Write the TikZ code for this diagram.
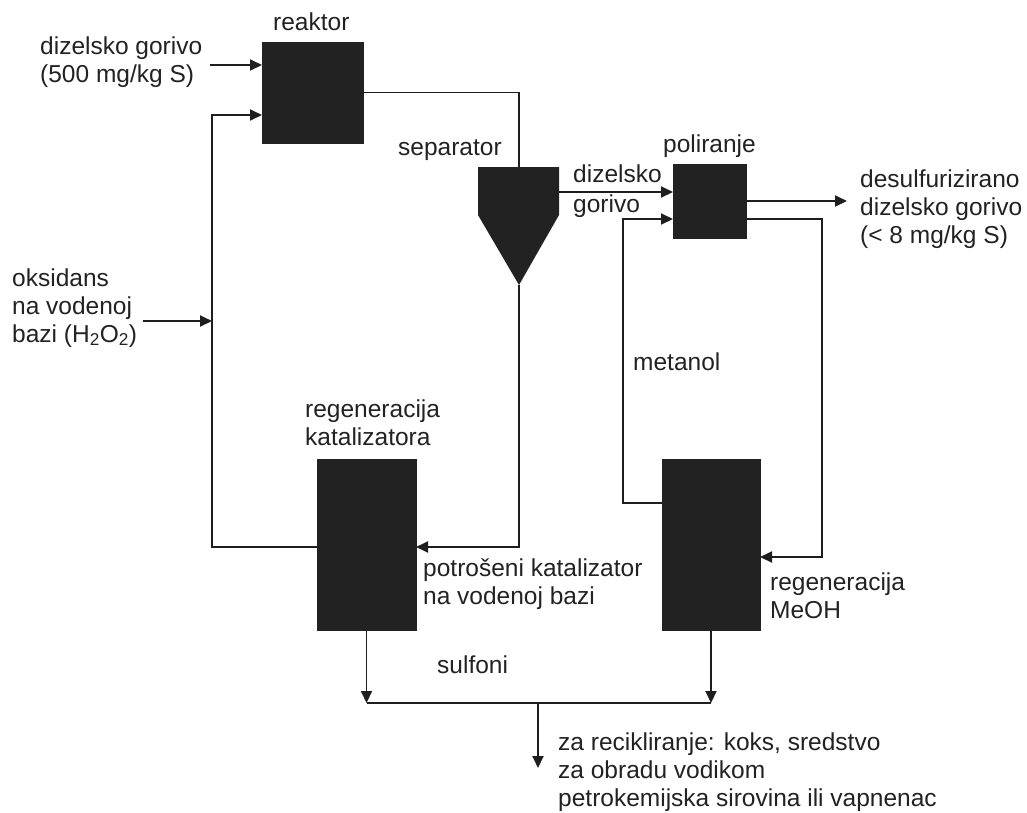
\documentclass[tikz,border=0pt]{standalone}
\usepackage{fontspec}
\setmainfont{Liberation Sans}
\usetikzlibrary{arrows.meta}
\definecolor{boxc}{HTML}{222222}
\definecolor{linec}{HTML}{1E1E1E}
\definecolor{textc}{HTML}{222222}
\begin{document}
\begin{tikzpicture}[x=1pt,y=-1pt,
  unit/.style={fill=boxc,draw=boxc,line width=0.8pt,inner sep=0pt,outer sep=0pt},
  flow/.style={draw=linec,line width=1.9pt},
  arr/.style={flow,-{Triangle[length=12pt,width=11pt]}},
  lbl/.style={anchor=base west,inner sep=0pt,align=left,text=textc,font=\fontsize{24.5}{28}\selectfont}]
\useasboundingbox (0,0) rectangle (1027,812);
% units
\node[unit,minimum width=101pt,minimum height=101pt] (reactor) at (312.5,92.5) {};
\node[unit,minimum width=73pt,minimum height=74pt] (pol) at (709.5,201) {};
\node[unit,minimum width=99pt,minimum height=171pt] (regcat) at (366.5,544.5) {};
\node[unit,minimum width=98pt,minimum height=171pt] (regmeoh) at (711,544.5) {};
\fill[boxc] (478,167) -- (559,167) -- (559,215) -- (519,285) -- (478,215) -- cycle;
\coordinate (sepTop) at (519,167);
\coordinate (sepTip) at (519,285);
\coordinate (sepOut) at (559,192);
% free ends and bends
\coordinate (feedIn) at (210,65);
\coordinate (loopB) at (212,547);
\coordinate (loopT) at (212,115);
\coordinate (oxIn) at (143,321);
\coordinate (catIn) at (416,547);
\coordinate (meLeftB) at (623,503);
\coordinate (meLeftT) at (623,219);
\coordinate (polRight) at (822,219);
\coordinate (meIn) at (760,557);
\coordinate (prodOut) at (847,201);
\coordinate (jL) at (366.5,703);
\coordinate (jR) at (711,703);
\coordinate (jM) at (538,703);
\coordinate (recOut) at (538,768);
% connectors
\draw[arr] (feedIn) -- (feedIn -| reactor.west);
\draw[arr] (regcat.west |- loopB) -- (loopB) -- (loopT) -- (loopT -| reactor.west);
\draw[arr] (oxIn) -- (oxIn -| loopB);
\draw[flow] (reactor.east) -| (sepTop);
\draw[arr] (sepTip) |- (catIn);
\draw[arr] (sepOut) -- (sepOut -| pol.west);
\draw[arr] (regmeoh.west |- meLeftB) -- (meLeftB) -- (meLeftT) -- (meLeftT -| pol.west);
\draw[arr] (pol.east) -- (prodOut);
\draw[arr] (pol.east |- polRight) -- (polRight) |- (meIn);
\draw[arr] (regcat.south) -- (jL);
\draw[arr] (regmeoh.south) -- (jR);
\draw[flow] (jL) -- (jR);
\draw[arr] (jM) -- (recOut);
% labels (multi-line labels: y is the baseline of the last line)
\node[lbl] (tReactor) at (273,30) {reaktor};
\node[lbl] (tFeed) at (40,82) {dizelsko gorivo\\(500 mg/kg S)};
\node[lbl] (tSep) at (398,155) {separator};
\node[lbl] (tDiesel) at (573,182) {dizelsko};
\node[lbl] (tGorivo) at (573,212) {gorivo};
\node[lbl] (tPol) at (663,152) {poliranje};
\node[lbl] (tProd) at (860,243) {desulfurizirano\\dizelsko gorivo\\(< 8 mg/kg S)};
\node[lbl] (tOx) at (12,342) {oksidans\\na vodenoj\\bazi (H\textsubscript{2}O\textsubscript{2})};
\node[lbl] (tMet) at (633,370) {metanol};
\node[lbl] (tRegCat) at (305,445) {regeneracija\\katalizatora};
\node[lbl] (tSpent) at (423,604) {potrošeni katalizator\\na vodenoj bazi};
\node[lbl] (tRegMe) at (770,618) {regeneracija\\MeOH};
\node[lbl] (tSulf) at (437,673) {sulfoni};
\node[lbl] (tRec) at (558,806) {za recikliranje: koks, sredstvo\\za obradu vodikom\\petrokemijska sirovina ili vapnenac};
\end{tikzpicture}
\end{document}
